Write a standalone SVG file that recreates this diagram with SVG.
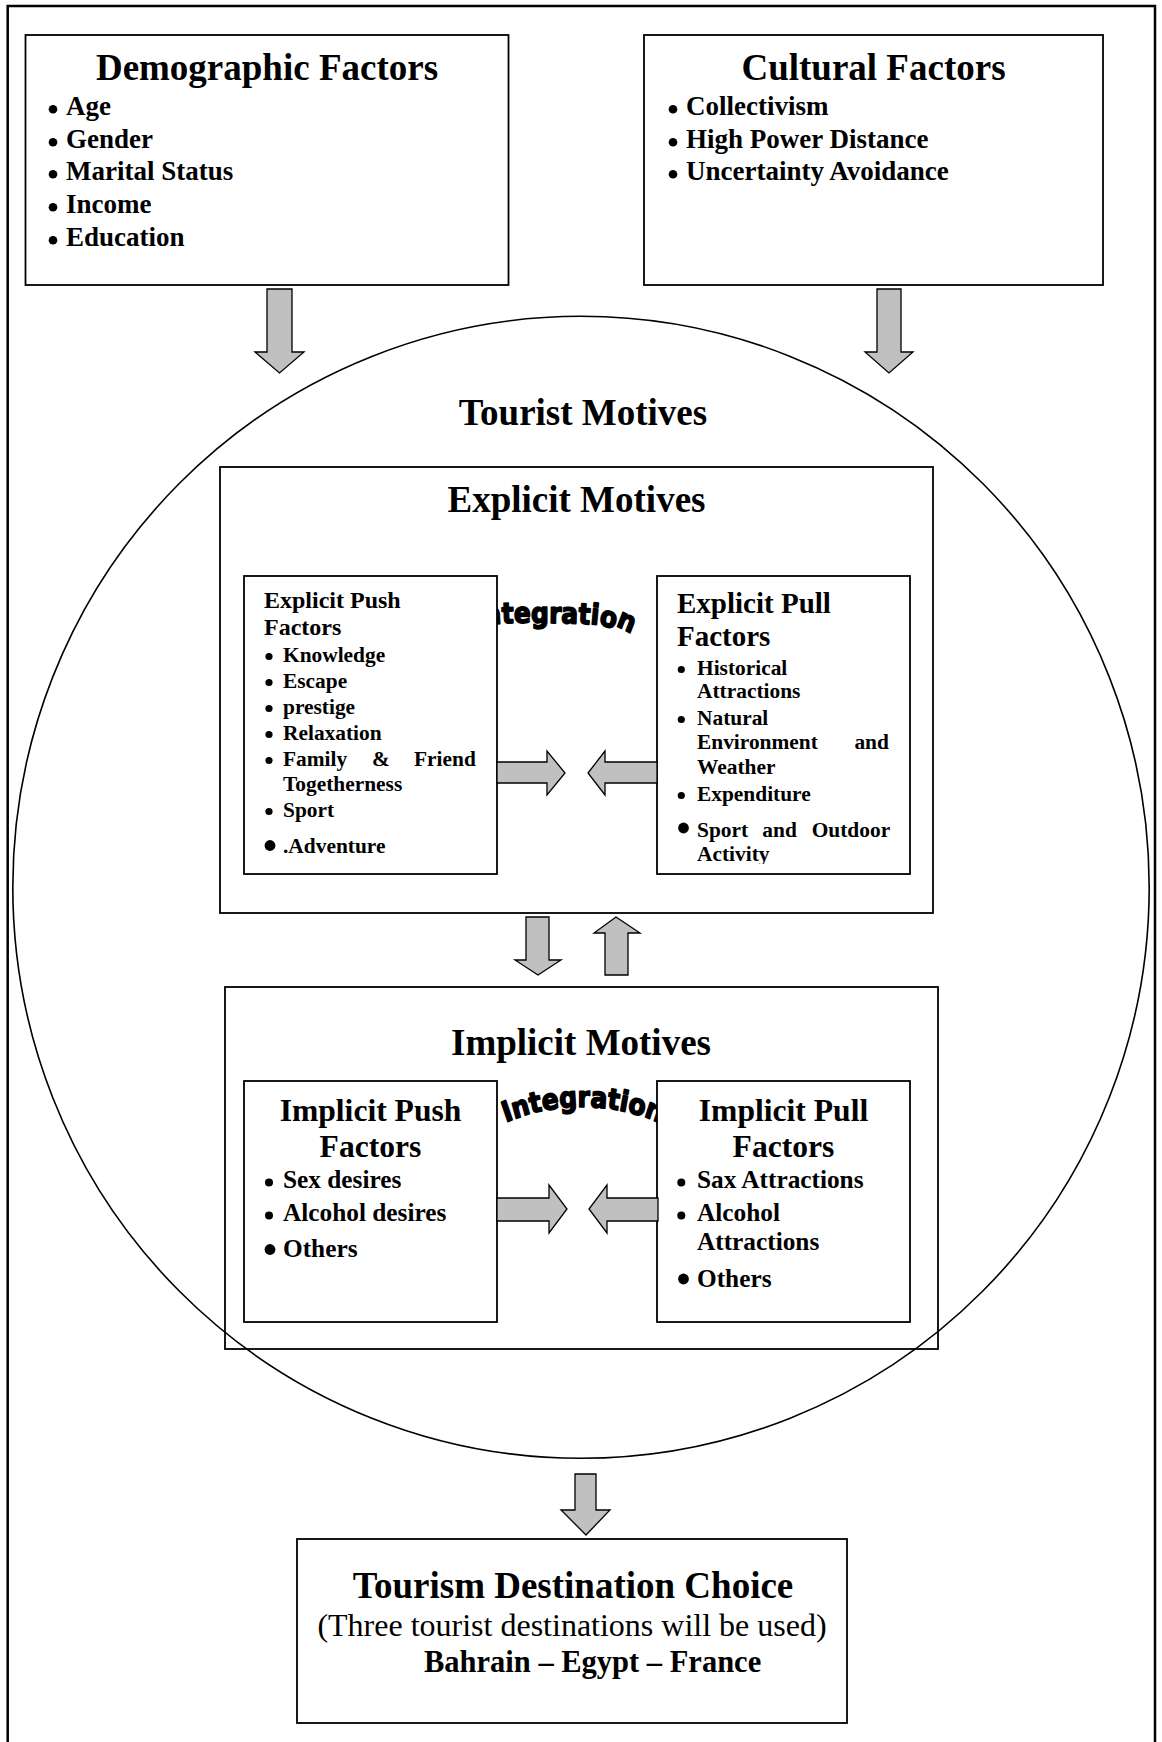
<svg xmlns="http://www.w3.org/2000/svg" width="1162" height="1742" viewBox="0 0 1162 1742">
<style>
  .frame{fill:none;stroke:#000;stroke-width:2.5}
  .box{fill:#fff;stroke:#000;stroke-width:1.8}
  .open{fill:none;stroke:#000;stroke-width:1.8}
  .ring{fill:none;stroke:#000;stroke-width:1.6}
  .arrow{fill:#c0c0c0;stroke:#000;stroke-width:1.3;stroke-linejoin:miter}
  .dot{fill:#000}
  text{font-family:"Liberation Serif","Times New Roman",serif;font-weight:bold;fill:#000}
  .h{font-size:37px;text-anchor:middle}
  .li27{font-size:27px}
  .push1{font-size:24px}
  .pull1{font-size:29px}
  .li21{font-size:21.4px}
  .imp{font-size:31.6px;text-anchor:middle}
  .li25{font-size:25.3px}
  .reg{font-weight:normal;font-size:32px;text-anchor:middle}
  .dest{font-size:30.5px}
  .art{font-family:"DejaVu Sans",sans-serif;font-weight:bold;font-size:25px;stroke:#000;stroke-width:1.4;stroke-linejoin:round}
</style>
<defs>
  <clipPath id="pullClip"><rect x="657" y="576" width="253" height="288"/></clipPath>
</defs>

<rect class="frame" x="7.7" y="6" width="1147.3" height="1745"/>

<!-- outer ring holding all tourist motives -->
<g id="tourist-motives">
  <ellipse class="ring" cx="581" cy="887.3" rx="568.2" ry="571"/>
  <text class="h" x="583" y="425">Tourist Motives</text>
</g>

<g id="explicit-motives">
  <rect class="open" x="220" y="467" width="713" height="446"/>
  <text class="h" x="576.5" y="512">Explicit Motives</text>
  <!-- arched word, stretched upward from its baseline -->
  <g transform="translate(0 623) scale(1 1.15) translate(0 -623)">
    <text class="art" x="475 484 502 514 531 549 561 578 590 598.5 615.5" y="625.6 624.7 623.4 623 623 623 623 623.4 623.9 624.3 625.2" rotate="-6 -4 -2 -1 0 1 2 4 6 14 24">Integration</text>
  </g>
</g>

<g id="explicit-push">
  <rect class="box" x="244" y="576" width="253" height="298"/>
  <text class="push1" x="264" y="608">Explicit Push</text>
  <text class="push1" x="264" y="635">Factors</text>
  <circle class="dot" cx="269" cy="656.5" r="3.6"/><text class="li21" x="283" y="662">Knowledge</text>
  <circle class="dot" cx="269" cy="682.5" r="3.6"/><text class="li21" x="283" y="688">Escape</text>
  <circle class="dot" cx="269" cy="708.5" r="3.6"/><text class="li21" x="283" y="714">prestige</text>
  <circle class="dot" cx="269" cy="734.5" r="3.6"/><text class="li21" x="283" y="740">Relaxation</text>
  <circle class="dot" cx="269" cy="760.5" r="3.6"/><text class="li21" y="766"><tspan x="283">Family</tspan><tspan x="372">&amp;</tspan><tspan x="414">Friend</tspan></text>
  <text class="li21" x="283" y="791">Togetherness</text>
  <circle class="dot" cx="269" cy="811.5" r="3.6"/><text class="li21" x="283" y="817">Sport</text>
  <circle class="dot" cx="270" cy="845.5" r="5.4"/><text class="li21" x="283" y="853">.Adventure</text>
</g>

<g id="explicit-pull">
  <rect class="box" x="657" y="576" width="253" height="298"/>
  <g clip-path="url(#pullClip)">
    <text class="pull1" x="677" y="613">Explicit Pull</text>
    <text class="pull1" x="677" y="646">Factors</text>
    <circle class="dot" cx="681.3" cy="669.5" r="3.6"/><text class="li21" x="697" y="675">Historical</text>
    <text class="li21" x="697" y="698">Attractions</text>
    <circle class="dot" cx="681.3" cy="719.5" r="3.6"/><text class="li21" x="697" y="725">Natural</text>
    <text class="li21" y="749"><tspan x="697">Environment</tspan><tspan x="854.4">and</tspan></text>
    <text class="li21" x="697" y="774">Weather</text>
    <circle class="dot" cx="681.3" cy="795.5" r="3.6"/><text class="li21" x="697" y="801">Expenditure</text>
    <circle class="dot" cx="683.5" cy="828" r="5.4"/><text class="li21" y="837"><tspan x="697">Sport</tspan><tspan x="762.3">and</tspan><tspan x="811.7">Outdoor</tspan></text>
    <text class="li21" x="697" y="861">Activity</text>
  </g>
</g>

<g id="implicit-motives">
  <rect class="open" x="225" y="987" width="713" height="362"/>
  <text class="h" x="581" y="1055">Implicit Motives</text>
  <g transform="translate(0 1107) scale(1 1.15) translate(0 -1107)">
    <text class="art" x="505.7 514.3 531.3 543 559.8 577.6 589.9 606.7 618.6 627 643.6" y="1120.6 1117.6 1112.9 1110.5 1108.2 1107.1 1107.1 1108.2 1109.8 1111.2 1115.1" rotate="-21.4 -17.5 -13.3 -9.1 -4.1 0.2 4.4 8.5 11.5 15.2 20.2">Integration</text>
  </g>
</g>

<g id="implicit-push">
  <rect class="box" x="244" y="1081" width="253" height="241"/>
  <text class="imp" x="370.5" y="1121">Implicit Push</text>
  <text class="imp" x="370.5" y="1157">Factors</text>
  <circle class="dot" cx="269" cy="1182.5" r="4"/><text class="li25" x="283" y="1188">Sex desires</text>
  <circle class="dot" cx="269" cy="1215.5" r="4"/><text class="li25" x="283" y="1221">Alcohol desires</text>
  <circle class="dot" cx="270" cy="1249.5" r="5.4"/><text class="li25" x="283" y="1257">Others</text>
</g>

<g id="implicit-pull">
  <rect class="box" x="657" y="1081" width="253" height="241"/>
  <text class="imp" x="783.5" y="1121">Implicit Pull</text>
  <text class="imp" x="783.5" y="1157">Factors</text>
  <circle class="dot" cx="681.3" cy="1182.5" r="4"/><text class="li25" x="697" y="1188">Sax Attractions</text>
  <circle class="dot" cx="681.3" cy="1215.5" r="4"/><text class="li25" x="697" y="1221">Alcohol</text>
  <text class="li25" x="697" y="1250">Attractions</text>
  <circle class="dot" cx="683.5" cy="1279" r="5.4"/><text class="li25" x="697" y="1287">Others</text>
</g>

<g id="demographic-factors">
  <rect class="box" x="25.5" y="35" width="483" height="250"/>
  <text class="h" x="267" y="80">Demographic Factors</text>
  <circle class="dot" cx="53" cy="109.3" r="4.3"/><text class="li27" x="66" y="115">Age</text>
  <circle class="dot" cx="53" cy="142.3" r="4.3"/><text class="li27" x="66" y="148">Gender</text>
  <circle class="dot" cx="53" cy="174.3" r="4.3"/><text class="li27" x="66" y="180">Marital Status</text>
  <circle class="dot" cx="53" cy="207.3" r="4.3"/><text class="li27" x="66" y="213">Income</text>
  <circle class="dot" cx="53" cy="240.3" r="4.3"/><text class="li27" x="66" y="246">Education</text>
</g>

<g id="cultural-factors">
  <rect class="box" x="644" y="35" width="459" height="250"/>
  <text class="h" x="873.5" y="80">Cultural Factors</text>
  <circle class="dot" cx="673" cy="109.3" r="4.3"/><text class="li27" x="686" y="115">Collectivism</text>
  <circle class="dot" cx="673" cy="142.3" r="4.3"/><text class="li27" x="686" y="148">High Power Distance</text>
  <circle class="dot" cx="673" cy="174.3" r="4.3"/><text class="li27" x="686" y="180">Uncertainty Avoidance</text>
</g>

<g id="destination-choice">
  <rect class="box" x="297" y="1539" width="550" height="184"/>
  <text class="h" x="573" y="1598">Tourism Destination Choice</text>
  <text class="reg" x="572" y="1636">(Three tourist destinations will be used)</text>
  <text class="dest" x="424" y="1672">Bahrain – Egypt – France</text>
</g>

<!-- block arrows -->
<g id="connectors">
  <path class="arrow" d="M267 289 H292 V352 H304 L279.5 373 L255 352 H267 Z"/>
  <path class="arrow" d="M877 289 H901 V352 H913 L889 373 L865 352 H877 Z"/>
  <path class="arrow" d="M497 762 H547 V751 L565 773 L547 795 V783 H497 Z"/>
  <path class="arrow" d="M657 762 H605 V751 L588 773 L605 795 V783 H657 Z"/>
  <path class="arrow" d="M526 917 H549 V960 H561 L538 975 L515 960 H526 Z"/>
  <path class="arrow" d="M605 975 V933 H594 L616 917 L640 933 H628 V975 Z"/>
  <path class="arrow" d="M497 1198 H549 V1185 L567 1209 L549 1233 V1221 H497 Z"/>
  <path class="arrow" d="M658 1198 H607 V1185 L589 1209 L607 1233 V1221 H658 Z"/>
  <path class="arrow" d="M575 1474 H596 V1510 H610 L586 1535 L561 1510 H575 Z"/>
</g>
</svg>
